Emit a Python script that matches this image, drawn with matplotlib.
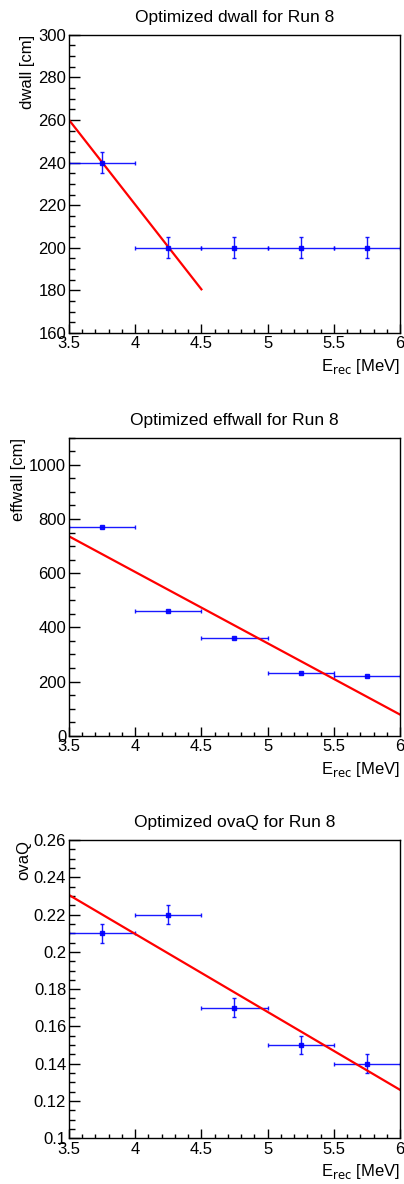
import matplotlib
matplotlib.use('Agg')
import matplotlib.pyplot as plt
from matplotlib.ticker import MultipleLocator, FuncFormatter

plt.rcParams['font.family'] = ['Liberation Sans', 'DejaVu Sans']

# energy bins
e_center = [3.75, 4.25, 4.75, 5.25, 5.75]
e_halfwidth = [0.25, 0.25, 0.25, 0.25, 0.25]

# optimized cut values per bin
dwall = [240, 200, 200, 200, 200]
dwall_err = [5, 5, 5, 5, 5]
effwall = [770, 460, 360, 230, 220]
ovaq = [0.21, 0.22, 0.17, 0.15, 0.14]
ovaq_err = [0.005, 0.005, 0.005, 0.005, 0.005]

# linear fits (end points)
dwall_fit_x = [3.5, 4.5]
dwall_fit_y = [260, 180.5]
effwall_fit_x = [3.5, 6.0]
effwall_fit_y = [736, 78]
ovaq_fit_x = [3.5, 6.0]
ovaq_fit_y = [0.2305, 0.126]

W, H = 404, 1184
fig = plt.figure(figsize=(W / 100, H / 100), dpi=100)


def panel(top_px, bot_px, y, yerr, fx, fy, ylim, ymaj, ymin, title, ylabel):
    ax = fig.add_axes([69 / W, 1 - bot_px / H, 331 / W, (bot_px - top_px) / H])
    ax.errorbar(e_center, y, xerr=e_halfwidth, yerr=yerr, fmt='s', color='blue',
                ms=3, elinewidth=1.0, capsize=1.5, capthick=1.0, alpha=0.9)
    ax.plot(fx, fy, color='red', lw=1.6)
    ax.set_xlim(3.5, 6.0)
    ax.set_ylim(*ylim)
    ax.xaxis.set_major_locator(MultipleLocator(0.5))
    ax.xaxis.set_minor_locator(MultipleLocator(0.1))
    ax.yaxis.set_major_locator(MultipleLocator(ymaj))
    ax.yaxis.set_minor_locator(MultipleLocator(ymin))
    fmt = FuncFormatter(lambda v, p: '%g' % round(v, 6))
    ax.xaxis.set_major_formatter(fmt)
    ax.yaxis.set_major_formatter(fmt)
    ax.tick_params(axis='both', which='both', direction='in', top=False, right=False,
                   labelsize=12, width=1.0)
    ax.tick_params(axis='y', which='major', length=7.9, pad=2)
    ax.tick_params(axis='y', which='minor', length=4.0)
    ax.tick_params(axis='x', which='major', length=6.4, pad=2.5)
    ax.tick_params(axis='x', which='minor', length=3.0)
    for s in ax.spines.values():
        s.set_linewidth(1.0)
    ax.set_title(title, fontsize=12.5, pad=9)
    ax.set_ylabel(ylabel, fontsize=12, loc='top', labelpad=2)
    ax.set_xlabel(r'E$_{\mathrm{rec}}$ [MeV]', fontsize=12, loc='right', labelpad=4)
    return ax


panel(34.7, 333, dwall, dwall_err, dwall_fit_x, dwall_fit_y, (160, 300), 20, 5,
      'Optimized dwall for Run 8', 'dwall [cm]')
panel(437.7, 735.7, effwall, None, effwall_fit_x, effwall_fit_y, (0, 1100), 200, 50,
      'Optimized effwall for Run 8', 'effwall [cm]')
panel(840, 1138.3, ovaq, ovaq_err, ovaq_fit_x, ovaq_fit_y, (0.1, 0.26), 0.02, 0.005,
      'Optimized ovaQ for Run 8', 'ovaQ')

fig.savefig('out.png', dpi=100)
